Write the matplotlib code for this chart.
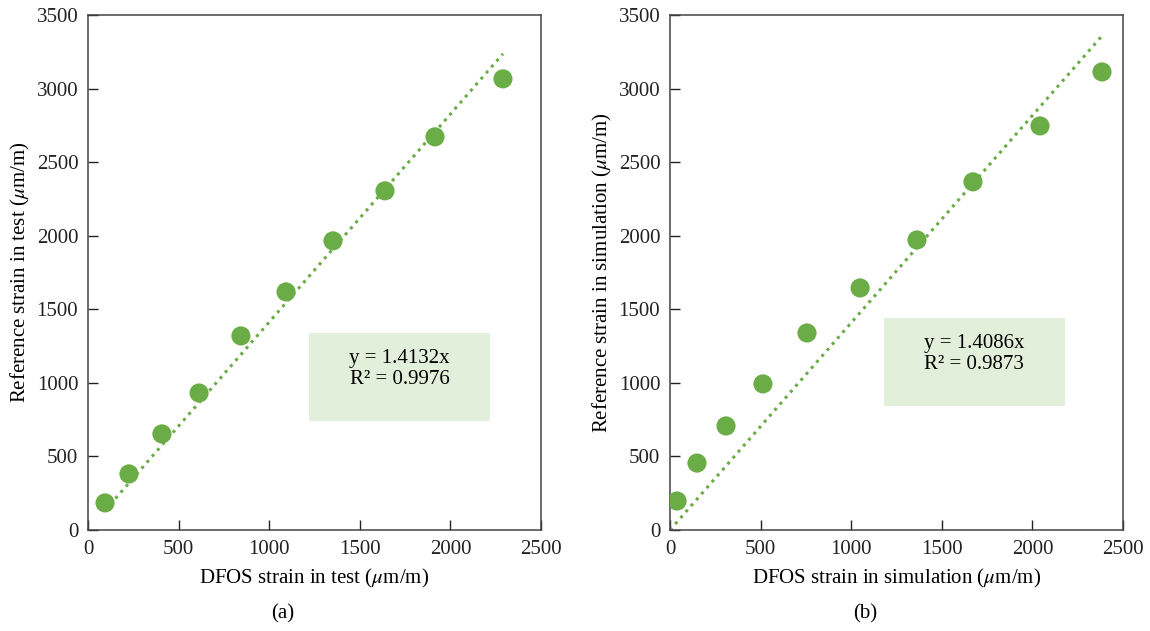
import matplotlib
matplotlib.use('Agg')
import matplotlib.pyplot as plt
from matplotlib.patches import Rectangle
import numpy as np

# panel (a): test
test_dfos = [94, 226, 408, 613, 844, 1093, 1352, 1639, 1915, 2290]
test_ref = [184, 381, 653, 931, 1319, 1618, 1965, 2305, 2672, 3066]
test_slope = 1.4132
test_r2 = 0.9976

# panel (b): simulation
sim_dfos = [39, 149, 309, 513, 756, 1049, 1363, 1672, 2042, 2384]
sim_ref = [197, 455, 707, 993, 1339, 1645, 1971, 2366, 2746, 3113]
sim_slope = 1.4086
sim_r2 = 0.9873

ticks_x = [0, 500, 1000, 1500, 2000, 2500]
ticks_y = [0, 500, 1000, 1500, 2000, 2500, 3000, 3500]

GREEN = '#6aac45'
BOX = '#e2efda'
FONT = 'Liberation Serif'

plt.rcParams['font.family'] = FONT
plt.rcParams['mathtext.fontset'] = 'stix'

fig = plt.figure(figsize=(11.5, 6.31), dpi=100)
ax_a = fig.add_axes([88 / 1150, 101 / 631, 453 / 1150, 515 / 631])
ax_b = fig.add_axes([670 / 1150, 101 / 631, 453 / 1150, 515 / 631])


def draw_panel(ax, xs, ys, slope, r2, x0, xlabel, ylabel, box, text_y, tag):
    xs = np.asarray(xs, dtype=float)
    xl = np.array([x0, xs.max()])
    ax.plot(xl, slope * xl, linestyle=(0, (1, 1.6)), color=GREEN,
            linewidth=2.2, zorder=2)
    ax.scatter(xs, ys, s=190, color=GREEN, edgecolors='none', zorder=3)

    ax.set_xlim(0, 2500)
    ax.set_ylim(0, 3500)
    ax.set_xticks(ticks_x)
    ax.set_yticks(ticks_y)
    ax.tick_params(direction='in', length=7, width=1, labelsize=15,
                   colors='#222222', pad=7)
    for sp in ax.spines.values():
        sp.set_color('#444444')
        sp.set_linewidth(1.1)
    ax.set_xlabel(xlabel, fontsize=15, labelpad=6)
    ax.set_ylabel(ylabel, fontsize=15, labelpad=3)

    # equation box (axes fraction: x0, y0, x1, y1)
    bx0, by0, bx1, by1 = box
    ax.add_patch(Rectangle((bx0, by0), bx1 - bx0, by1 - by0,
                           transform=ax.transAxes, facecolor=BOX,
                           edgecolor='none', zorder=4))
    ax.text((bx0 + bx1) / 2, text_y, f'y = {slope:.4f}x\nR² = {r2:.4f}',
            transform=ax.transAxes, ha='center', va='center',
            fontsize=15, linespacing=1.15, zorder=5)
    ax.text(0.43, -0.162, tag, transform=ax.transAxes, ha='center',
            va='center', fontsize=15)


draw_panel(ax_a, test_dfos, test_ref, test_slope, test_r2, test_dfos[0],
           r'DFOS strain in test ($\mu$m/m)',
           r'Reference strain in test ($\mu$m/m)',
           (0.488, 0.212, 0.887, 0.383), 0.313, '(a)')
draw_panel(ax_b, sim_dfos, sim_ref, sim_slope, sim_r2, 0,
           r'DFOS strain in simulation ($\mu$m/m)',
           r'Reference strain in simulation ($\mu$m/m)',
           (0.472, 0.241, 0.872, 0.412), 0.342, '(b)')

fig.savefig('out.png', dpi=100)
